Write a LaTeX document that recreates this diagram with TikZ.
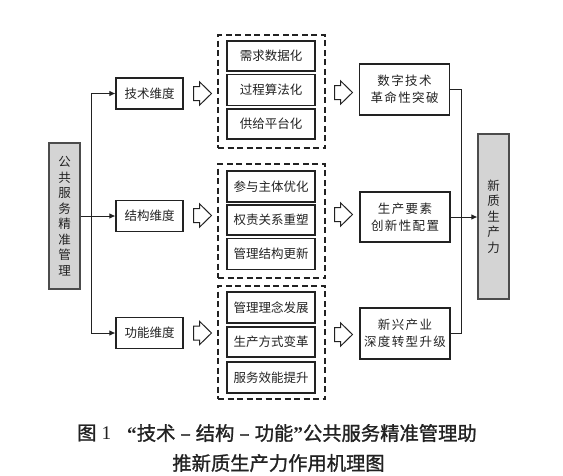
\documentclass[tikz,border=0pt]{standalone}
\usepackage{fontspec}
\setmainfont{Liberation Serif}
\newfontfamily\cjk{Noto Sans CJK SC}
\newfontfamily\cjkls{Noto Sans CJK SC}[LetterSpace=11]
\newfontfamily\capfont{Noto Sans CJK SC}[FakeBold=1.2]
\usetikzlibrary{arrows.meta}
\definecolor{boxgray}{HTML}{D4D4D4}
\definecolor{ink}{HTML}{222222}
\tikzset{
  x=1pt, y=-1pt,
  plainbox/.style={draw=ink, line width=1.1pt, inner sep=0pt, text=ink,
    font=\cjk\fontsize{12.5}{15}\selectfont, align=center},
  dimbox/.style={plainbox, minimum width=67pt, minimum height=31pt},
  itembox/.style={plainbox, minimum width=88pt, minimum height=30pt},
  resbox/.style={plainbox, minimum width=90pt, minimum height=51pt,
    font=\cjkls\fontsize{12.5}{17.3}\selectfont},
  graybox/.style={plainbox, fill=boxgray, draw=black!70, minimum width=31pt,
    font=\cjk\fontsize{12.5}{15.5}\selectfont},
  group/.style={draw=ink, line width=1.1pt, dash pattern=on 6pt off 3.5pt,
    minimum width=107pt, inner sep=0pt},
  conn/.style={draw=ink, line width=0.9pt},
  arr/.style={conn, -{Latex[length=6pt,width=5.5pt]}},
  harrow/.pic={\draw[ink, line width=1pt, line join=miter]
    (0,-7) -- (6,-7) -- (6,-11.7) -- (18,0) -- (6,11.7) -- (6,7) -- (0,7) -- cycle;},
  captext/.style={inner sep=0pt, text=ink, font=\capfont\fontsize{19.3}{22}\selectfont}
}
\newcommand{\myLQ}{{\rmfamily\bfseries “}}
\newcommand{\myRQ}{{\rmfamily\bfseries ”}}
\begin{document}
\begin{tikzpicture}
\useasboundingbox (0,0) rectangle (563,475);
% left source
\node[graybox, minimum height=146pt] (gov) at (64.5,216) {公\\共\\服\\务\\精\\准\\管\\理};
% dimension boxes
\node[dimbox] (t1) at (149.5,93.5) {技术维度};
\node[dimbox] (t2) at (149.5,216) {结构维度};
\node[dimbox] (t3) at (149.5,333) {功能维度};
% connectors left
\coordinate (jl) at (91,0);
\draw[arr] (gov.east |- t2.west) -- (t2.west);
\draw[conn] (jl |- t1.west) -- (jl |- t3.west);
\draw[arr] (jl |- t1.west) -- (t1.west);
\draw[arr] (jl |- t3.west) -- (t3.west);
% hollow arrows left
\pic at (193.5,93.5) {harrow};
\pic at (193.5,215.5) {harrow};
\pic at (193.5,333) {harrow};
% dashed groups
\node[group, minimum height=113pt] (g1) at (271.5,91.5) {};
\node[group, minimum height=114pt] (g2) at (271.5,221) {};
\node[group, minimum height=113pt] (g3) at (271.5,342.5) {};
% items
\node[itembox] (a1) at (271,56) {需求数据化};
\node[itembox, minimum height=31pt] (a2) at (271,90) {过程算法化};
\node[itembox] (a3) at (271,124) {供给平台化};
\node[itembox, minimum height=31pt] (b1) at (271,186.5) {参与主体优化};
\node[itembox] (b2) at (271,220) {权责关系重塑};
\node[itembox, minimum height=31pt] (b3) at (271,254) {管理结构更新};
\node[itembox, minimum height=31pt] (c1) at (271,307.5) {管理理念发展};
\node[itembox] (c2) at (271,342) {生产方式变革};
\node[itembox, minimum height=31pt] (c3) at (271,377.5) {服务效能提升};
% hollow arrows right
\pic at (334.5,92.5) {harrow};
\pic at (334.5,214.5) {harrow};
\pic at (334.5,334.5) {harrow};
% result boxes
\node[resbox] (r1) at (404.5,89.5) {数字技术\\革命性突破};
\node[resbox, minimum height=50pt] (r2) at (405,217) {生产要素\\创新性配置};
\node[resbox] (r3) at (405,333.5) {新兴产业\\深度转型升级};
% right target
\node[graybox, minimum height=165pt] (out) at (493.5,216.5) {新\\质\\生\\产\\力};
% connectors right
\coordinate (jr) at (461,0);
\draw[conn] (r1.east) -- (jr |- r1.east) -- (jr |- r3.east) -- (r3.east);
\draw[arr] (r2.east) -- (out.west |- r2.east);
% caption
\node[captext, anchor=west] (cap1) at (77,433) {图\hspace{5pt}{\rmfamily 1}};
\node[captext, anchor=west] (cap2) at (127,433) {\myLQ 技术\hspace{5pt}–\hspace{5pt}结构\hspace{5pt}–\hspace{5pt}功能\myRQ 公共服务精准管理助};
\node[captext] (cap3) at (278.5,463) {推新质生产力作用机理图};
\end{tikzpicture}
\end{document}
